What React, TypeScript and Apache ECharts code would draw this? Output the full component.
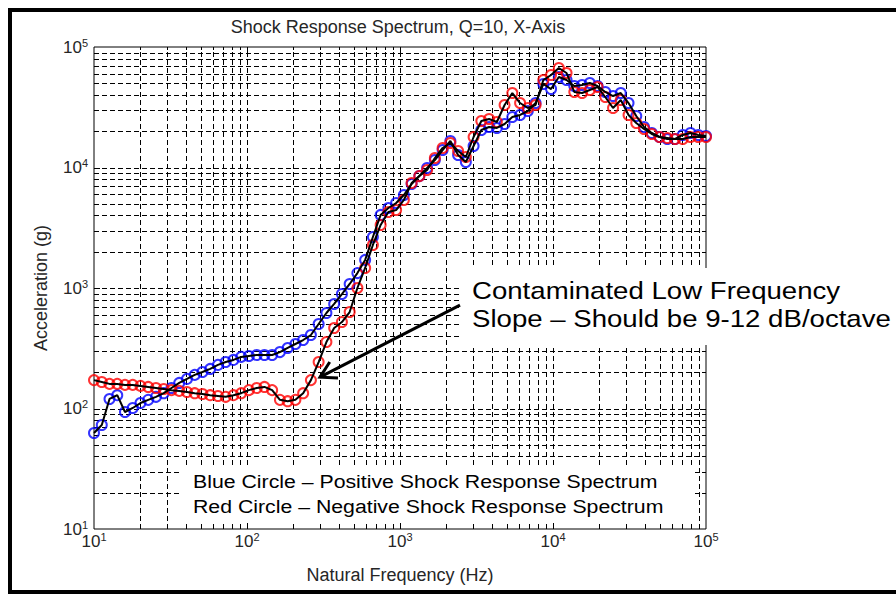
import React, { useEffect, useRef } from 'react';
import * as echarts from 'echarts';

// Natural frequency (Hz), 80 log-spaced points
const frequencies = [
  10, 11.24, 12.63, 14.19, 15.94, 17.91, 20.13, 22.62, 25.42, 28.56,
  32.09, 36.06, 40.52, 45.52, 51.15, 57.47, 64.58, 72.56, 81.53, 91.62,
  102.9, 115.7, 130.0, 146.0, 164.1, 184.4, 207.2, 232.8, 261.6, 293.9,
  330.4, 371.2, 417.2, 468.8, 526.6, 591.8, 665.0, 747.2, 839.6, 943.4,
  1060, 1191, 1338, 1504, 1690, 1899, 2134, 2397, 2694, 3027,
  3401, 3822, 4295, 4826, 5423, 6093, 6846, 7693, 8644, 9712,
  10914, 12263, 13779, 15483, 17398, 19549, 21966, 24681, 27733, 31163,
  35015, 39344, 44210, 49676, 55816, 62719, 70474, 79187, 88978, 100000,
];

// Positive SRS (blue circles), acceleration in g
const positiveSRS = [
  62.6, 73, 120, 129, 93.5, 101, 111, 118, 125, 134,
  148, 163, 176, 190, 201, 213, 230, 243, 253, 268,
  273, 278, 278, 278, 294, 318, 343, 370, 407, 503,
  620, 737, 891, 1080, 1330, 1710, 2650, 4040, 4610, 5070,
  5910, 7300, 8490, 9910, 11530, 13960, 16590, 12700, 11110, 15070,
  20470, 21680, 21280, 22960, 26240, 27280, 29440, 34290, 49290, 44770,
  56370, 53180, 47430, 48400, 50240, 47430, 42350, 39190, 41490, 34290,
  26740, 21680, 19330, 17910, 17250, 17250, 18620, 19330, 18620, 18250,
];

// Negative SRS (red circles), acceleration in g
const negativeSRS = [
  172, 166, 160, 160, 157, 157, 154, 151, 148, 145,
  142, 140, 137, 134, 132, 129, 127, 125, 129, 134,
  142, 148, 151, 142, 118, 115, 118, 134, 172, 243,
  356, 466, 522, 632, 1000, 1466, 2275, 3335, 4275, 4437,
  5375, 7430, 8490, 9530, 11990, 14520, 15970, 13710, 12220, 17910,
  24320, 25240, 23870, 33020, 41490, 34290, 31190, 33020, 53180, 58580,
  66990, 60830, 42350, 41490, 43960, 46560, 38460, 31190, 36310, 27280,
  23390, 20890, 18970, 17910, 17580, 17250, 17250, 17910, 17910, 17910,
];

const decades = [10, 100, 1000, 10000, 100000];
const minorMultipliers = [2, 3, 4, 5, 6, 7, 8, 9];
const AX_MIN = 10;
const AX_MAX = 100000;

const titleText = 'Shock Response Spectrum, Q=10, X-Axis';
const xName = 'Natural Frequency (Hz)';
const yName = 'Acceleration (g)';
const legendLines = [
  'Blue Circle \u2013 Positive Shock Response Spectrum',
  'Red Circle \u2013 Negative Shock Response Spectrum',
];
const noteLines = [
  'Contaminated Low Frequency',
  'Slope \u2013 Should be 9-12 dB/octave',
];
const arrowTail = [2466, 722];
const arrowTip = [300, 182];

const FONT = "'Liberation Sans', Arial, Helvetica, sans-serif";
const TXT = '#262626';

export default function App() {
  const ref = useRef<HTMLDivElement>(null);

  useEffect(() => {
    if (!ref.current) return;
    const chart = echarts.init(ref.current, null, { renderer: 'svg' });

    const gridData: number[][] = [];
    decades.forEach((d) => gridData.push([d, d, 1]));
    decades.slice(0, 4).forEach((d) =>
      minorMultipliers.forEach((m) => gridData.push([d * m, d * m, 0]))
    );

    const crisp = (v: number) => Math.round(v) + 0.5;

    const supLabel = (v: number) => `{b|10}{s|${Math.round(Math.log10(v))}}`;
    const rich = {
      b: { fontSize: 17, fontFamily: FONT, color: TXT, lineHeight: 20 },
      s: { fontSize: 11, fontFamily: FONT, color: TXT, verticalAlign: 'top', lineHeight: 12 },
    };

    const dash = [5, 3];

    const option: any = {
      animation: false,
      backgroundColor: '#fff',
      grid: {
        left: 94, top: 47, width: 612, height: 482,
        show: true, borderColor: '#000', borderWidth: 1, backgroundColor: 'transparent',
      },
      xAxis: {
        type: 'log', logBase: 10, min: AX_MIN, max: AX_MAX,
        axisLine: { show: false }, axisTick: { show: false }, splitLine: { show: false },
        axisLabel: { formatter: supLabel, rich, margin: 2 },
        name: xName, nameLocation: 'middle', nameGap: 37,
        nameTextStyle: { fontSize: 18, fontFamily: FONT, color: TXT },
      },
      yAxis: {
        type: 'log', logBase: 10, min: AX_MIN, max: AX_MAX,
        axisLine: { show: false }, axisTick: { show: false }, splitLine: { show: false },
        axisLabel: { formatter: supLabel, rich, margin: 6 },
        name: yName, nameLocation: 'middle', nameGap: 44,
        nameTextStyle: { fontSize: 18, fontFamily: FONT, color: TXT },
      },
      series: [
        {
          type: 'custom',
          silent: true,
          z: 1,
          clip: false,
          encode: { x: 0, y: 1 },
          data: gridData,
          renderItem: (params: any, api: any) => {
            const v = api.value(0);
            const major = api.value(2) === 1;
            const bottom = api.coord([v, AX_MIN]);
            const top = api.coord([v, AX_MAX]);
            const left = api.coord([AX_MIN, v]);
            const right = api.coord([AX_MAX, v]);
            const x = crisp(bottom[0]);
            const y = crisp(left[1]);
            const yb = bottom[1];
            const yt = top[1];
            const xl = left[0];
            const xr = right[0];
            const len = major ? 6 : 3;
            const children: any[] = [];
            const edge = v === AX_MIN || v === AX_MAX;
            if (!edge) {
              children.push({
                type: 'line', shape: { x1: x, y1: yb, x2: x, y2: yt },
                style: { stroke: '#000', lineWidth: 1, lineDash: dash },
              });
              children.push({
                type: 'line', shape: { x1: xl, y1: y, x2: xr, y2: y },
                style: { stroke: '#000', lineWidth: 1, lineDash: dash },
              });
              const solid = { stroke: '#000', lineWidth: 1 };
              children.push({ type: 'line', shape: { x1: x, y1: yb, x2: x, y2: yb - len }, style: solid });
              children.push({ type: 'line', shape: { x1: x, y1: yt, x2: x, y2: yt + len }, style: solid });
              children.push({ type: 'line', shape: { x1: xl, y1: y, x2: xl + len, y2: y }, style: solid });
              children.push({ type: 'line', shape: { x1: xr, y1: y, x2: xr - len, y2: y }, style: solid });
            }
            return { type: 'group', children };
          },
        },
        {
          name: 'Positive',
          type: 'scatter',
          silent: true,
          clip: false,
          z: 3,
          symbol: 'circle',
          symbolSize: 10,
          itemStyle: { color: 'rgba(0,0,0,0)', borderColor: '#0000ff', borderWidth: 2 },
          data: frequencies.map((f, i) => [f, positiveSRS[i]]),
        },
        {
          name: 'Negative',
          type: 'scatter',
          silent: true,
          clip: false,
          z: 4,
          symbol: 'circle',
          symbolSize: 10,
          itemStyle: { color: 'rgba(0,0,0,0)', borderColor: '#ff0000', borderWidth: 2 },
          data: frequencies.map((f, i) => [f, negativeSRS[i]]),
        },
        {
          type: 'line', silent: true, z: 5, showSymbol: false, symbol: 'none', clip: false,
          lineStyle: { color: '#000', width: 2 },
          data: frequencies.map((f, i) => [f, positiveSRS[i]]),
        },
        {
          type: 'line', silent: true, z: 5, showSymbol: false, symbol: 'none', clip: false,
          lineStyle: { color: '#000', width: 2 },
          data: frequencies.map((f, i) => [f, negativeSRS[i]]),
        },
      ],
    };

    chart.setOption(option);

    const tail = chart.convertToPixel({ xAxisIndex: 0, yAxisIndex: 0 }, arrowTail) as number[];
    const tip = chart.convertToPixel({ xAxisIndex: 0, yAxisIndex: 0 }, arrowTip) as number[];
    const dx = tail[0] - tip[0];
    const dy = tail[1] - tip[1];
    const dl = Math.sqrt(dx * dx + dy * dy);
    const ux = dx / dl;
    const uy = dy / dl;
    const hl = 18;
    const c = Math.cos(Math.PI / 6);
    const s = Math.sin(Math.PI / 6);
    const w1 = [tip[0] + hl * (ux * c - uy * s), tip[1] + hl * (ux * s + uy * c)];
    const w2 = [tip[0] + hl * (ux * c + uy * s), tip[1] + hl * (-ux * s + uy * c)];

    const textStyle = (text: string, size: number, align: string, color: string) => ({
      text, fontSize: size, fontFamily: FONT, fill: color,
      align, verticalAlign: 'middle', textAlign: align, textVerticalAlign: 'middle',
    });

    chart.setOption({
      graphic: [
        {
          type: 'rect', z: 100, silent: true,
          shape: { x: 10, y: 10, width: 900, height: 582 },
          style: { fill: 'none', stroke: '#000', lineWidth: 4 },
        },
        { type: 'text', z: 100, silent: true, x: 398, y: 27, style: textStyle(titleText, 18, 'center', TXT) },
        {
          type: 'rect', z: 90, silent: true,
          shape: { x: 182, y: 465, width: 513, height: 57 },
          style: { fill: '#fff', stroke: 'none' },
        },
        { type: 'text', z: 100, silent: true, x: 193, y: 481.5, scaleX: 1.12, style: textStyle(legendLines[0], 19, 'left', '#000') },
        { type: 'text', z: 100, silent: true, x: 193, y: 506.5, scaleX: 1.12, style: textStyle(legendLines[1], 19, 'left', '#000') },
        {
          type: 'rect', z: 90, silent: true,
          shape: { x: 460, y: 268, width: 436, height: 77 },
          style: { fill: '#fff', stroke: 'none' },
        },
        { type: 'text', z: 100, silent: true, x: 472, y: 291, scaleX: 1.15, style: textStyle(noteLines[0], 24, 'left', '#000') },
        { type: 'text', z: 100, silent: true, x: 472, y: 318.5, scaleX: 1.15, style: textStyle(noteLines[1], 24, 'left', '#000') },
        {
          type: 'line', z: 100, silent: true,
          shape: { x1: tail[0], y1: tail[1], x2: tip[0], y2: tip[1] },
          style: { stroke: '#000', lineWidth: 3 },
        },
        {
          type: 'polyline', z: 100, silent: true,
          shape: { points: [w1, tip, w2] },
          style: { stroke: '#000', lineWidth: 3, fill: 'none' },
        },
      ],
    });

    return () => chart.dispose();
  }, []);

  return (
    <div
      ref={ref}
      style={{ position: 'fixed', left: 0, top: 0, width: 896, height: 594, background: '#fff' }}
    />
  );
}
